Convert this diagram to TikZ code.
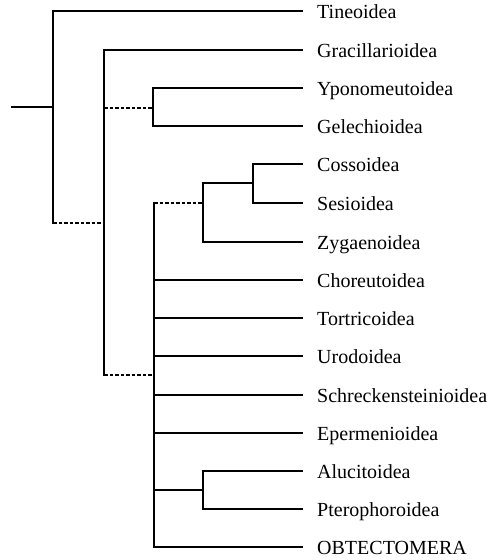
\documentclass[tikz,border=0pt]{standalone}
\usepackage{fontspec}
\setmainfont{Liberation Serif}
\tikzset{
  br/.style={line width=1.2pt, line cap=rect},
  dsh/.style={line width=1.2pt, dash pattern=on 3.5pt off 2pt},
  leaf/.style={anchor=west, inner xsep=15pt, inner ysep=0pt, text height=15pt, text depth=0pt,
    font=\fontsize{20}{24}\selectfont}
}
\begin{document}
\begin{tikzpicture}[x=1pt,y=-1pt]
\useasboundingbox (0,0) rectangle (496,560);
% leaves
\node[leaf] (tin) at (302,11) {Tineoidea};
\node[leaf] (gra) at (302,50) {Gracillarioidea};
\node[leaf] (ypo) at (302,88) {Yponomeutoidea};
\node[leaf] (gel) at (302,126) {Gelechioidea};
\node[leaf] (cos) at (302,164) {Cossoidea};
\node[leaf] (ses) at (302,203) {Sesioidea};
\node[leaf] (zyg) at (302,242) {Zygaenoidea};
\node[leaf] (cho) at (302,280) {Choreutoidea};
\node[leaf] (tor) at (302,318) {Tortricoidea};
\node[leaf] (uro) at (302,356) {Urodoidea};
\node[leaf] (sch) at (302,395) {Schreckensteinioidea};
\node[leaf] (epe) at (302,433) {Epermenioidea};
\node[leaf] (alu) at (302,471) {Alucitoidea};
\node[leaf] (pte) at (302,509) {Pterophoroidea};
\node[leaf] (obt) at (302,547) {OBTECTOMERA};
% internal points
\coordinate (root) at (12,107);
\coordinate (r) at (53,107);
\coordinate (rT) at (53,11);
\coordinate (rB) at (53,223);
\coordinate (gT) at (104,50);
\coordinate (gY) at (104,108);
\coordinate (gR) at (104,223);
\coordinate (gB) at (104,375);
\coordinate (yJ) at (153,108);
\coordinate (yT) at (153,88);
\coordinate (yB) at (153,126);
\coordinate (mT) at (154,203);
\coordinate (mJ) at (154,375);
\coordinate (mA) at (154,490);
\coordinate (mB) at (154,547);
\coordinate (zJ) at (203,203);
\coordinate (zT) at (203,183);
\coordinate (zB) at (203,242);
\coordinate (cJ) at (253,183);
\coordinate (cT) at (253,164);
\coordinate (cB) at (253,203);
\coordinate (aJ) at (203,490);
\coordinate (aT) at (203,471);
\coordinate (aB) at (203,509);
% root and Tineoidea
\draw[br] (root) -- (r);
\draw[br] (tin.west) -| (rT) -- (rB);
\draw[dsh] (rB) -- (gR);
% Gracillarioidea clade
\draw[br] (gra.west) -| (gT) -- (gB);
\draw[dsh] (gY) -- (yJ);
\draw[br] (ypo.west) -| (yT) -- (yB) -- (gel.west);
\draw[dsh] (gB) -- (mJ);
% main lower comb
\draw[br] (mT) -- (mB) -- (obt.west);
\draw[dsh] (mT) -- (zJ);
\draw[br] (cJ) -| (zT) -- (zB) -- (zyg.west);
\draw[br] (cos.west) -| (cT) -- (cB) -- (ses.west);
\draw[br] (mT |- cho.west) -- (cho.west);
\draw[br] (mT |- tor.west) -- (tor.west);
\draw[br] (mT |- uro.west) -- (uro.west);
\draw[br] (mT |- sch.west) -- (sch.west);
\draw[br] (mT |- epe.west) -- (epe.west);
\draw[br] (mA) -- (aJ);
\draw[br] (alu.west) -| (aT) -- (aB) -- (pte.west);
\end{tikzpicture}
\end{document}
